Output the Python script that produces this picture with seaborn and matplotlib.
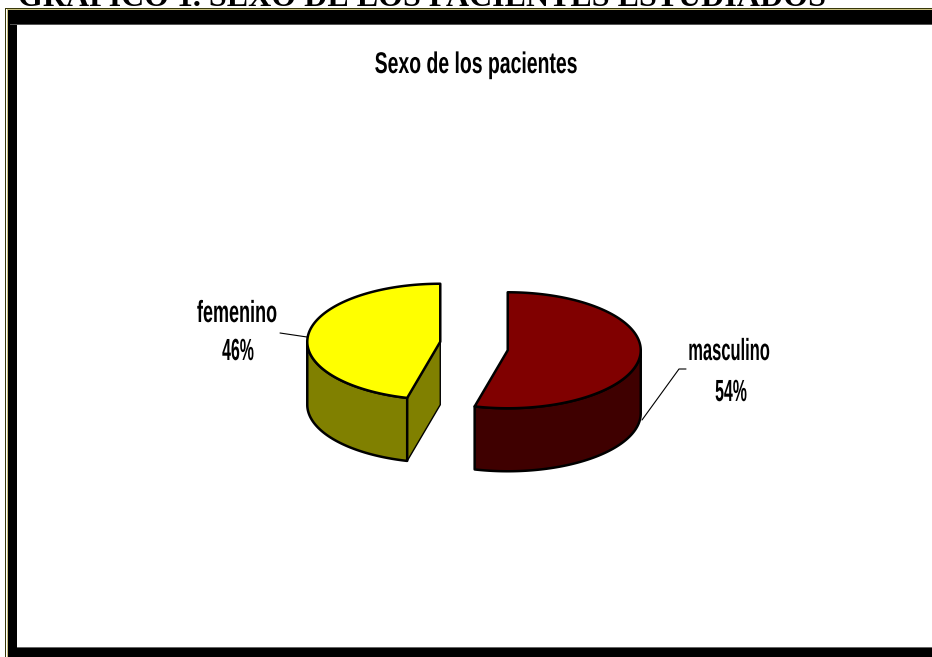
import numpy as np
import matplotlib
matplotlib.use('Agg')
import matplotlib.pyplot as plt
import seaborn as sns
from matplotlib.patches import Polygon, Rectangle
from matplotlib.patheffects import AbstractPathEffect
from matplotlib.transforms import Affine2D

# Datos del gráfico
sexo = ['masculino', 'femenino']
pacientes = [54, 46]
color_tapa = ['#800000', '#FFFF00']
color_lado = ['#3f0000', '#808000']

titulo_doc = 'GRÁFICO 1. SEXO DE LOS PACIENTES ESTUDIADOS'
titulo = 'Sexo de los pacientes'

W, H = 932, 657

sns.set_theme(style='white')
plt.rcParams['font.family'] = ['Liberation Sans', 'DejaVu Sans']


class Estrecho(AbstractPathEffect):
    # comprime el texto en horizontal (como la fuente de Excel)
    def __init__(self, sx, x0):
        super().__init__()
        self.sx = sx
        self.x0 = x0

    def draw_path(self, renderer, gc, tpath, affine, rgbFace=None):
        t = affine + Affine2D().translate(-self.x0, 0).scale(self.sx, 1).translate(self.x0, 0)
        renderer.draw_path(gc, tpath, t, rgbFace)


fig = plt.figure(figsize=(W / 100, H / 100), dpi=100)
ax = fig.add_axes([0, 0, 1, 1])
ax.set_xlim(0, W)
ax.set_ylim(H, 0)
ax.axis('off')

# --- marco ---
ax.add_patch(Rectangle((4.5, 7.5), 1.5, H, color='#38380a', lw=0))
ax.add_patch(Rectangle((4.5, 7.5), W, 1.5, color='#38380a', lw=0))
ax.add_patch(Rectangle((6.5, 9.2), 1.2, H, color='#c8c080', lw=0))
ax.add_patch(Rectangle((6.5, 9.2), W, 1.2, color='#c8c080', lw=0))
ax.add_patch(Rectangle((7.7, 10.4), 9.5, H, color='black', lw=0))
ax.add_patch(Rectangle((7.7, 10.4), W, 13.2, color='black', lw=0))
ax.add_patch(Rectangle((10, 23.6), W, 1.2, color='#555555', lw=0))
ax.add_patch(Rectangle((7.7, 648.2), W, 10, color='black', lw=0))
ax.add_patch(Rectangle((17, 646.8), W, 1.4, color='#666666', lw=0))

# el título del documento queda cortado arriba, como en el original
ax.text(18, 6, titulo_doc, family=['Liberation Serif', 'DejaVu Serif'],
        fontweight='bold', fontsize=23, ha='left', va='baseline', color='black')

# --- pastel 3D separado ---
cx, cy = 474, 346
R, r, h = 133, 58, 63
sep = 34

total = sum(pacientes)
a0 = 0.0
for nombre, v, ct, cl in zip(sexo, pacientes, color_tapa, color_lado):
    a1 = a0 + 360 * v / total
    mid = np.radians((a0 + a1) / 2)
    ox = cx + sep * np.sin(mid)
    oy = cy - sep * np.cos(mid)

    def pt(t, dz=0):
        t = np.radians(t)
        return (ox + R * np.sin(t), oy - r * np.cos(t) + dz)

    # paredes visibles
    if np.sin(np.radians(a0)) < -1e-9:
        ax.add_patch(Polygon([(ox, oy), pt(a0), pt(a0, h), (ox, oy + h)],
                             closed=True, fc=cl, ec='black', lw=1.0, zorder=2))
    if np.sin(np.radians(a1)) > 1e-9:
        ax.add_patch(Polygon([(ox, oy), pt(a1), pt(a1, h), (ox, oy + h)],
                             closed=True, fc=cl, ec='black', lw=1.0, zorder=2))
    lo, hi = max(a0, 90), min(a1, 270)
    if hi > lo:
        ts = np.linspace(lo, hi, 120)
        pared = [pt(t) for t in ts] + [pt(t, h) for t in ts[::-1]]
        ax.add_patch(Polygon(pared, closed=True, fc=cl, ec='black', lw=1.8,
                             joinstyle='round', zorder=2))
    # tapa
    ts = np.linspace(a0, a1, 200)
    tapa = [(ox, oy)] + [pt(t) for t in ts]
    ax.add_patch(Polygon(tapa, closed=True, fc=ct, ec='black', lw=1.8,
                         joinstyle='round', zorder=3))
    a0 = a1


def texto(x, y, s, sx, size):
    ax.text(x, y, s, ha='center', va='baseline', fontsize=size,
            fontweight='bold', color='black', path_effects=[Estrecho(sx, x)])


texto(476, 73, titulo, 0.65, 21.5)

pct = [f'{v / total * 100:.0f}%' for v in pacientes]
texto(729, 360, sexo[0], 0.54, 22)
texto(731, 401, pct[0], 0.52, 22)
texto(237, 322, sexo[1], 0.59, 22)
texto(238, 360, pct[1], 0.52, 22)

# líneas guía
ax.plot([280, 307], [333, 337], color='black', lw=0.8, zorder=4)
ax.plot([642, 679, 686], [420, 369, 369], color='black', lw=0.8, zorder=4)

fig.savefig('out.png', dpi=100)
